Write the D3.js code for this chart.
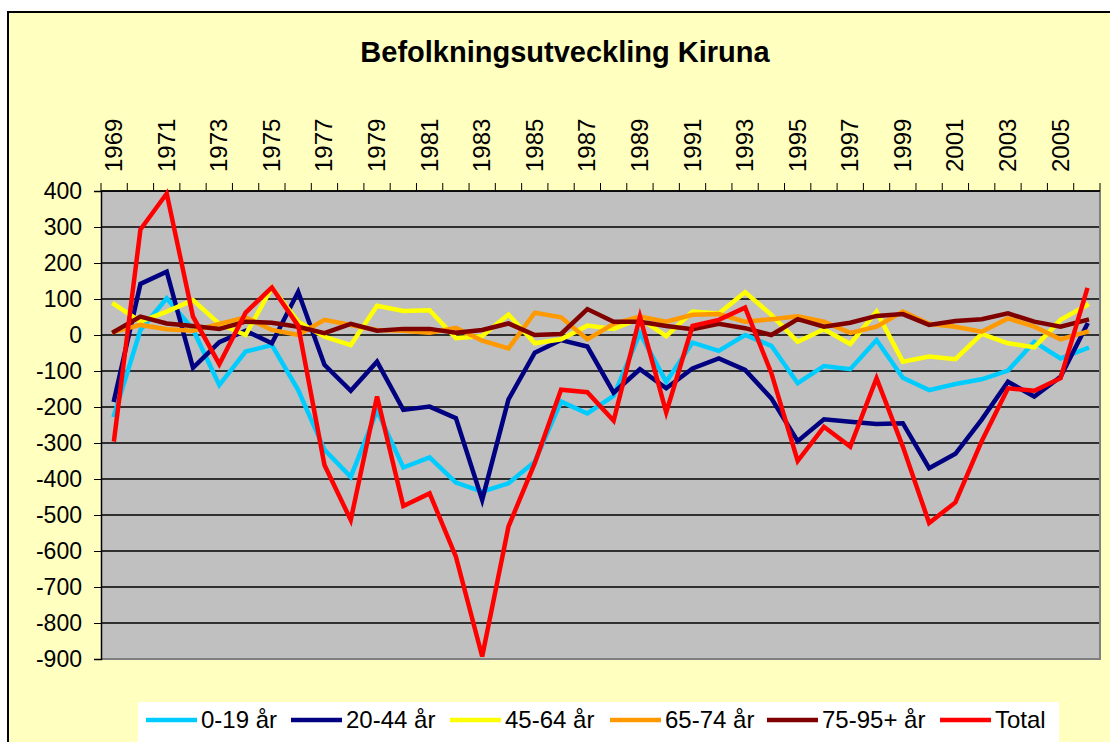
<!DOCTYPE html>
<html><head><meta charset="utf-8">
<script src="https://cdn.jsdelivr.net/npm/d3@7"></script>
<style>
html,body{margin:0;padding:0;background:#fff;}
svg{display:block;font-family:Arial,"Liberation Sans",sans-serif;}
</style></head>
<body>
<svg id="chart" width="1110" height="742"></svg>
<script>
const title = "Befolkningsutveckling Kiruna";
const years = d3.range(1969, 2007);
const yTicks = [400,300,200,100,0,-100,-200,-300,-400,-500,-600,-700,-800,-900];
const seriesNames = ["0-19 år","20-44 år","45-64 år","65-74 år","75-95+ år","Total"];
const seriesColors = ["#00CCFF","#000080","#FFFF00","#FF9900","#800000","#FF0000"];

const age0_19 = [-222,14,102,15,-139,-46,-28,-153,-319,-394,-210,-368,-340,-410,-435,-412,-352,-185,-218,-169,5,-130,-21,-44,0,-30,-134,-86,-95,-14,-119,-153,-136,-123,-99,-19,-65,-37];
const age20_44 = [-180,142,176,-91,-20,12,-23,120,-83,-155,-74,-208,-199,-231,-458,-179,-49,-14,-32,-160,-95,-148,-93,-65,-97,-176,-295,-234,-241,-247,-245,-370,-330,-235,-130,-171,-116,28];
const age45_64 = [86,37,65,97,31,0,132,37,-5,-28,81,67,69,-9,-3,57,-23,-12,26,17,46,-3,65,60,119,56,-19,16,-25,65,-74,-60,-67,3,-23,-34,42,83];
const age65_74 = [9,28,16,12,31,49,14,0,42,28,14,12,6,20,-16,-37,62,49,-12,31,51,37,56,58,37,44,52,37,6,23,65,31,23,9,46,23,-12,9];
const age75_95 = [9,51,32,25,17,37,34,23,5,31,12,17,17,6,14,32,0,3,72,37,37,25,16,31,19,0,44,23,34,53,58,28,39,44,60,37,23,42];
const total = [-290,293,393,51,-81,62,132,26,-361,-514,-171,-475,-440,-616,-893,-532,-356,-152,-159,-238,51,-215,25,42,76,-106,-350,-255,-310,-120,-310,-522,-465,-295,-148,-155,-120,125];

const seriesValues = [age0_19, age20_44, age45_64, age65_74, age75_95, total];

const svg = d3.select("#chart");
const W = 1110, H = 742;
const plot = {left:101, right:1100, top:191, bottom:659};

// chart area background
svg.append("rect").attr("x",8).attr("y",12).attr("width",W+20).attr("height",H+20)
  .attr("fill","#FFFFC0").attr("stroke","#000").attr("stroke-width",2);

const x = d3.scaleBand().domain(years).range([plot.left, plot.right]).padding(0);
const y = d3.scaleLinear().domain([-900,400]).range([plot.bottom, plot.top]);

// plot background
svg.append("rect").attr("x",plot.left).attr("y",plot.top)
  .attr("width",plot.right-plot.left).attr("height",plot.bottom-plot.top)
  .attr("fill","#C0C0C0");

// gridlines
svg.append("g").selectAll("line").data(yTicks).join("line")
  .attr("x1",plot.left).attr("x2",plot.right)
  .attr("y1",d=>y(d)).attr("y2",d=>y(d))
  .attr("stroke","#000").attr("stroke-width",1.3);

// plot border right/bottom
svg.append("path")
  .attr("d",`M${plot.right},${plot.top}V${plot.bottom}H${plot.left}`)
  .attr("fill","none").attr("stroke","#808080").attr("stroke-width",2);

// y axis
const yAxis = d3.axisLeft(y).tickValues(yTicks).tickSize(7).tickPadding(12).tickFormat(d=>String(d));
const gy = svg.append("g").attr("transform",`translate(${plot.left},0)`).call(yAxis);
gy.select(".domain").attr("stroke","#000").attr("stroke-width",1.5);
gy.selectAll(".tick line").attr("stroke","#000");
gy.selectAll("text").attr("font-size",23).attr("fill","#000")
  .attr("font-family","Arial, 'Liberation Sans', sans-serif");

// x axis on top: ticks between categories
const boundaries = years.map(d=>x(d)).concat([plot.right]);
svg.append("g").selectAll("line").data(boundaries).join("line")
  .attr("x1",d=>d).attr("x2",d=>d).attr("y1",plot.top-8).attr("y2",plot.top)
  .attr("stroke","#000").attr("stroke-width",1);
svg.append("line").attr("x1",plot.left).attr("x2",plot.right)
  .attr("y1",plot.top).attr("y2",plot.top).attr("stroke","#000").attr("stroke-width",1.5);

svg.append("g").selectAll("text").data(years.filter((d,i)=>i%2===0)).join("text")
  .attr("transform",d=>`translate(${x(d)+x.bandwidth()/2+8},${plot.top-19}) rotate(-90)`)
  .attr("text-anchor","start")
  .attr("font-size",24).attr("fill","#000")
  .text(d=>d);

// title
svg.append("text").attr("x",565).attr("y",62).attr("text-anchor","middle")
  .attr("font-size",29).attr("font-weight","bold").attr("fill","#000").text(title);

// lines
const line = d3.line().x((d,i)=>x(years[i])+x.bandwidth()/2).y(d=>y(d));
svg.append("g").selectAll("path").data(seriesValues).join("path")
  .attr("d",d=>line(d))
  .attr("fill","none")
  .attr("stroke",(d,i)=>seriesColors[i])
  .attr("stroke-width",4.5)
  .attr("stroke-linejoin","miter")
  .attr("stroke-linecap","square");

// legend
const lg = svg.append("g");
lg.append("rect").attr("x",138).attr("y",702).attr("width",921).attr("height",60)
  .attr("fill","#fff");
const legendStarts = [146,291,450,610,767,940];
seriesNames.forEach((name,i)=>{
  const sx = legendStarts[i];
  lg.append("line").attr("x1",sx).attr("x2",sx+51).attr("y1",720).attr("y2",720)
    .attr("stroke",seriesColors[i]).attr("stroke-width",4.5);
  lg.append("text").attr("x",sx+55).attr("y",728).attr("font-size",24)
    .attr("fill","#000").text(name);
});
</script>
</body></html>
